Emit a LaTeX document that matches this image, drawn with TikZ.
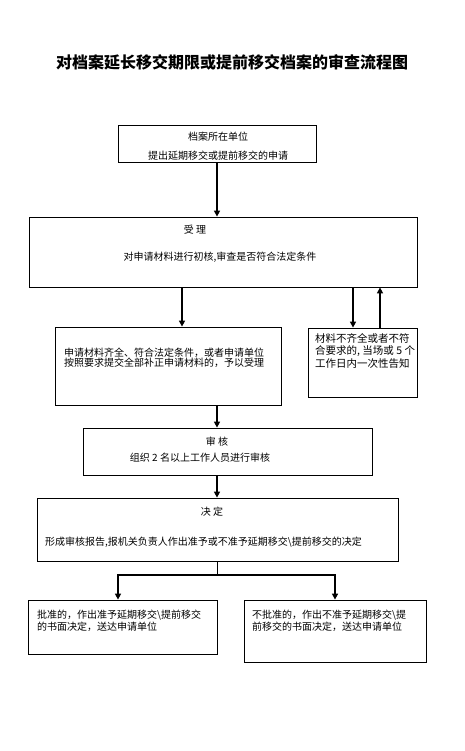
\documentclass[tikz,border=0pt]{standalone}
\usepackage{fontspec}
\setmainfont{Noto Sans CJK SC}
\usetikzlibrary{arrows.meta}

\begin{document}
\begin{tikzpicture}[x=1pt, y=-1pt,
  stagebox/.style={draw, line width=0.8pt, inner sep=0pt},
  flowarrow/.style={line width=1.6pt, -{Triangle[width=6pt,length=6pt]}},
  boxtext/.style={inner sep=0pt, align=left, font=\fontsize{10}{12}\selectfont}]
\useasboundingbox [fill=white] (0,0) rectangle (465,751);
\node (title) at (232,62) {\fontsize{16}{16}\selectfont\bfseries 对档案延长移交期限或提前移交档案的审查流程图};

\node [stagebox, minimum width=198, minimum height=37] (apply) at (217,143.5) {};
\node [stagebox, minimum width=388, minimum height=70] (accept) at (223,252) {};
\node [stagebox, minimum width=226, minimum height=78] (ok) at (168,366) {};
\node [stagebox, minimum width=109, minimum height=69] (notify) at (362.5,362.5) {};
\node [stagebox, minimum width=289, minimum height=47] (review) at (227.5,451.5) {};
\node [stagebox, minimum width=361, minimum height=63] (decide) at (217.5,529.5) {};
\node [stagebox, minimum width=189, minimum height=54] (grant) at (122.5,627) {};
\node [stagebox, minimum width=182, minimum height=62] (deny) at (335,631) {};

\node [boxtext] (apply1) at (218,137) {档案所在单位};
\node [boxtext] (apply2) at (218,156) {提出延期移交或提前移交的申请};
\node [boxtext] (accept1) at (195,230) {受\ 理};
\node [boxtext] (accept2) at (220,257) {对申请材料进行初核,审查是否符合法定条件};
\node [boxtext, anchor=west, font=\fontsize{10}{10.5}\selectfont] (ok1) at (64,358)
  {申请材料齐全、符合法定条件，或者申请单位\\按照要求提交全部补正申请材料的，予以受理};
\node [boxtext, anchor=west, font=\fontsize{10.5}{12.5}\selectfont] (notify1) at (315,350.5)
  {材料不齐全或者不符\\合要求的, 当场或 5 个\\工作日内一次性告知};
\node [boxtext] (review1) at (217,442) {审\ 核};
\node [boxtext] (review2) at (200,458) {组织 2 名以上工作人员进行审核};
\node [boxtext] (decide1) at (212,512) {决\ 定};
\node [boxtext, anchor=west] (decide2) at (45,542)
  {形成审核报告,报机关负责人作出准予或不准予延期移交\textbackslash 提前移交的决定};
\node [boxtext, anchor=west] (grant1) at (37,621)
  {批准的，作出准予延期移交\textbackslash 提前移交\\的书面决定，送达申请单位};
\node [boxtext, anchor=west] (deny1) at (252,621)
  {不批准的，作出不准予延期移交\textbackslash 提\\前移交的书面决定，送达申请单位};

\draw [flowarrow] (apply.south) -- (apply.south |- accept.north);
\draw [flowarrow] (accept.south -| 182,0) -- (ok.north -| 182,0);
\draw [flowarrow] (accept.south -| 353,0) -- (notify.north -| 353,0);
\draw [flowarrow] (notify.north -| 380,0) -- (accept.south -| 380,0);
\draw [flowarrow] (ok.south -| 217,0) -- (review.north -| 217,0);
\draw [flowarrow] (review.south -| 217,0) -- (decide.north -| 217,0);
\coordinate (split) at (217,575);
\draw [line width=0.8pt] (decide.south -| split) -- (split);
\draw [flowarrow] (split) -| (grant.north -| 118,0);
\draw [flowarrow] (split) -| (deny.north);
\end{tikzpicture}
\end{document}
